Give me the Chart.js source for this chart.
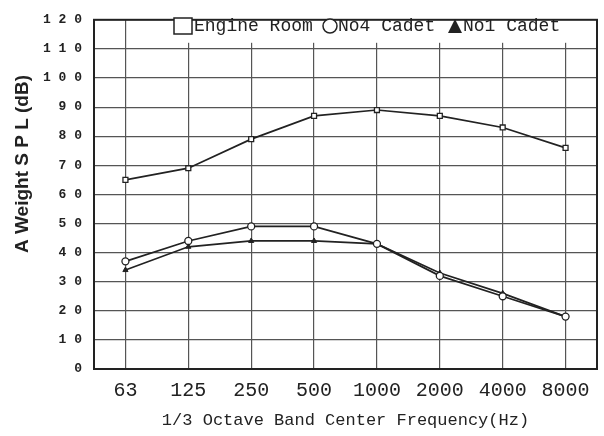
<!DOCTYPE html>
<html>
<head>
<meta charset="utf-8">
<script src="https://cdn.jsdelivr.net/npm/chart.js@4/dist/chart.umd.min.js"></script>
<style>
html,body{margin:0;padding:0;background:#fff;}
#wrap{width:604px;height:436px;}
</style>
</head>
<body>
<div id="wrap"><canvas id="c" width="604" height="436"></canvas></div>
<script>
const categories = ["63", "125", "250", "500", "1000", "2000", "4000", "8000"];
const engineRoom = [65, 69, 79, 87, 89, 87, 83, 76];
const no4Cadet = [37, 44, 49, 49, 43, 32, 25, 18];
const no1Cadet = [34, 42, 44, 44, 43, 33, 26, 18];
const seriesNames = ["Engine Room", "No4 Cadet", "No1 Cadet"];
const yTitle = "A Weight S P L (dB)";
const xTitle = "1/3 Octave Band Center Frequency(Hz)";

const INK = '#222';

const extras = {
  id: 'extras',
  afterDraw(chart) {
    const ctx = chart.ctx;
    const a = chart.chartArea;
    ctx.save();
    // legend box background
    ctx.fillStyle = '#fff';
    ctx.fillRect(172, a.top, a.right - 172, 23);
    // frame
    ctx.strokeStyle = INK;
    ctx.lineWidth = 2;
    ctx.strokeRect(a.left, a.top, a.right - a.left, a.bottom - a.top);
    // legend markers
    ctx.lineWidth = 1.5;
    ctx.strokeStyle = INK;
    ctx.fillStyle = '#fff';
    ctx.fillRect(174, 18, 18, 16);
    ctx.strokeRect(174, 18, 18, 16);
    ctx.beginPath();
    ctx.arc(330, 26, 7, 0, Math.PI * 2);
    ctx.fill();
    ctx.stroke();
    ctx.fillStyle = INK;
    ctx.beginPath();
    ctx.moveTo(448, 33);
    ctx.lineTo(462, 33);
    ctx.lineTo(455, 19);
    ctx.closePath();
    ctx.fill();
    // legend text
    ctx.fillStyle = INK;
    ctx.font = '18px "Liberation Mono"';
    ctx.textBaseline = 'middle';
    ctx.textAlign = 'left';
    ctx.fillText(seriesNames[0], 194, 26);
    ctx.fillText(seriesNames[1], 338, 26);
    ctx.fillText(seriesNames[2], 463, 26);
    // y title
    ctx.translate(23, 164);
    ctx.rotate(-Math.PI / 2);
    ctx.font = 'bold 19px "Liberation Sans"';
    ctx.textAlign = 'center';
    ctx.textBaseline = 'middle';
    ctx.fillText(yTitle, 0, 0);
    ctx.restore();
  }
};

new Chart(document.getElementById('c'), {
  type: 'line',
  data: {
    labels: categories,
    datasets: [
      {
        label: seriesNames[0], data: engineRoom,
        borderColor: INK, borderWidth: 1.7,
        pointStyle: 'rect', pointRadius: 3.5,
        pointBackgroundColor: '#fff', pointBorderColor: INK, pointBorderWidth: 1.3
      },
      {
        label: seriesNames[1], data: no4Cadet,
        borderColor: INK, borderWidth: 1.7,
        pointStyle: 'circle', pointRadius: 3.5,
        pointBackgroundColor: '#fff', pointBorderColor: INK, pointBorderWidth: 1.3
      },
      {
        label: seriesNames[2], data: no1Cadet,
        borderColor: INK, borderWidth: 1.7,
        pointStyle: 'triangle', pointRadius: 3,
        pointBackgroundColor: INK, pointBorderColor: INK, pointBorderWidth: 1
      }
    ]
  },
  options: {
    responsive: false,
    animation: false,
    devicePixelRatio: 1,
    layout: { padding: { top: 14, right: 7, left: 0, bottom: 0 } },
    plugins: { legend: { display: false }, tooltip: { enabled: false } },
    scales: {
      x: {
        offset: true,
        grid: { offset: false, color: '#555', lineWidth: 1.2, drawTicks: false },
        border: { display: false },
        ticks: { color: INK, font: { family: '"Liberation Mono"', size: 20 }, padding: 10, maxRotation: 0, autoSkip: false },
        title: { display: true, text: xTitle, color: INK, font: { family: '"Liberation Mono"', size: 17 }, padding: { top: 4, bottom: 5 } },
        afterFit(s) { s.height = 67; }
      },
      y: {
        min: 0, max: 120,
        grid: { color: '#555', lineWidth: 1.2, drawTicks: false },
        border: { display: false },
        ticks: {
          stepSize: 10, color: INK, padding: 12,
          font: { family: '"Liberation Mono"', size: 13, weight: 'bold' },
          callback: v => String(v).split('').join(' ')
        },
        afterFit(s) { s.width = 94; }
      }
    }
  },
  plugins: [extras]
});
</script>
</body>
</html>
